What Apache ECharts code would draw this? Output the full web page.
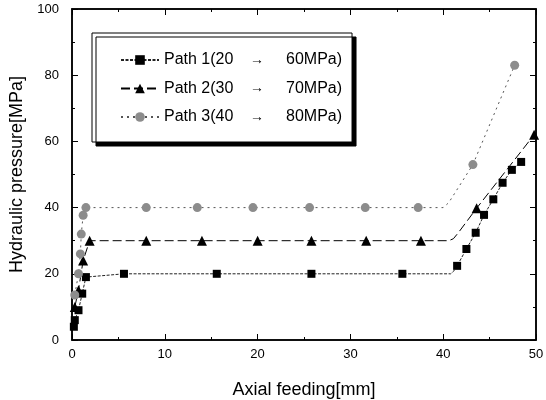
<!DOCTYPE html>
<html><head><meta charset="utf-8">
<script src="https://cdn.jsdelivr.net/npm/echarts@6/dist/echarts.min.js"></script>
<style>html,body{margin:0;padding:0;background:#fff}#c{width:546px;height:400px}</style>
</head><body><div id="c"></div>
<script>
// ---- data ----
const pathLabels = ['Path 1(20', 'Path 2(30', 'Path 3(40'];
const pathTargets = ['60MPa)', '70MPa)', '80MPa)'];
const path1Points = [[0.2,4],[0.3,6],[0.7,9],[1.1,14],[1.5,19],[5.6,20],[15.6,20],[25.8,20],[35.6,20],
  [41.5,22.4],[42.5,27.5],[43.5,32.4],[44.4,37.8],[45.4,42.5],[46.4,47.5],[47.4,51.4],[48.4,53.8]];
const path1Bend = [[40.8,20],[41.1,20.7]];
const path2Points = [[0.3,10],[0.7,15],[1.2,24],[1.9,30],[8,30],[14,30],[20,30],[25.8,30],[31.7,30],[37.6,30],
  [43.6,39.8],[49.8,62]];
const path2Bend = [[40.6,30],[41.1,30.6],[41.6,32.3]];
const path3Points = [[0.3,13.6],[0.7,20],[0.9,26],[1.0,32],[1.2,37.7],[1.5,40],[8,40],[13.5,40],[19.5,40],[25.6,40],[31.6,40],[37.3,40],
  [43.2,53],[47.7,83]];
const path3Bend = [[40,40],[40.6,41.5]];
const xTickLabels = ['0','10','20','30','40','50'];
const yTickLabels = ['0','20','40','60','80','100'];

function build(points, bend) {
  const d = points.map(p => ({value: p}))
    .concat(bend.map(p => ({value: p, symbol: 'none'})));
  d.sort((a, b) => a.value[0] - b.value[0]);
  return d;
}

const names = pathLabels.map((l, i) => l + ' → ' + pathTargets[i]);
const chart = echarts.init(document.getElementById('c'), null, {renderer: 'canvas'});
const font = 'Arial, "Liberation Sans", sans-serif';
function axisCommon() {
  return {
    show: true,
    axisLine: {show: true, onZero: false, lineStyle: {color: '#000', width: 1.5}},
    axisTick: {show: true, inside: true, length: 6, lineStyle: {color: '#000', width: 1}},
    minorTick: {show: true, splitNumber: 2, length: 3, lineStyle: {color: '#000', width: 1}},
    splitLine: {show: false}
  };
}
const gridRect = {left: 72, top: 9, right: 10, bottom: 60, containLabel: false, outerBoundsMode: 'none'};
chart.setOption({
  animation: false,
  backgroundColor: '#fff',
  grid: [
    Object.assign({}, gridRect, {show: true, borderColor: '#000', borderWidth: 1.5, backgroundColor: 'transparent'}),
    Object.assign({}, gridRect)
  ],
  legend: {
    orient: 'vertical', left: 92, top: 33,
    padding: [17, 10, 15, 28],
    itemWidth: 38, itemHeight: 12, itemGap: 8.5,
    backgroundColor: '#fff', borderColor: '#000', borderWidth: 1,
    shadowColor: '#000', shadowBlur: 0, shadowOffsetX: 4, shadowOffsetY: 4,
    data: names,
    formatter: function (name) {
      const i = names.indexOf(name);
      return '{a|' + pathLabels[i] + '}{b|→}{c|' + pathTargets[i] + '}';
    },
    textStyle: {
      fontFamily: font, fontSize: 16, color: '#000', lineHeight: 20,
      rich: {
        a: {fontFamily: font, fontSize: 16, color: '#000', width: 86},
        b: {fontFamily: font, fontSize: 14, color: '#000', width: 36},
        c: {fontFamily: font, fontSize: 16, color: '#000'}
      }
    }
  },
  xAxis: [
    Object.assign(axisCommon(), {
      gridIndex: 0, type: 'value', min: 0, max: 50, interval: 10, position: 'bottom',
      name: 'Axial feeding[mm]', nameLocation: 'middle', nameGap: 41,
      nameTextStyle: {fontFamily: font, fontSize: 18, color: '#000'},
      axisLabel: {fontFamily: font, fontSize: 13, color: '#000', margin: 8,
        formatter: v => xTickLabels[Math.round(v / 10)]}
    }),
    Object.assign(axisCommon(), {
      gridIndex: 1, type: 'value', min: 0, max: 50, interval: 10, position: 'top',
      axisLabel: {show: false}
    })
  ],
  yAxis: [
    Object.assign(axisCommon(), {
      gridIndex: 0, type: 'value', min: 0, max: 100, interval: 20, position: 'left',
      name: 'Hydraulic pressure[MPa]', nameLocation: 'middle', nameGap: 40,
      nameTextStyle: {fontFamily: font, fontSize: 18, color: '#000'},
      axisLabel: {fontFamily: font, fontSize: 13, color: '#000', margin: 13,
        formatter: v => yTickLabels[Math.round(v / 20)]}
    }),
    Object.assign(axisCommon(), {
      gridIndex: 1, type: 'value', min: 0, max: 100, interval: 20, position: 'right',
      axisLabel: {show: false}
    })
  ],
  series: [
    {
      name: names[0], type: 'line', data: build(path1Points, path1Bend),
      symbol: 'rect', symbolSize: 8, showSymbol: true,
      itemStyle: {color: '#000'},
      lineStyle: {color: '#222', width: 1, type: [3, 1.5]}
    },
    {
      name: names[1], type: 'line', data: build(path2Points, path2Bend),
      symbol: 'triangle', symbolSize: 10, showSymbol: true,
      itemStyle: {color: '#000'},
      lineStyle: {color: '#000', width: 1, type: [9, 4]}
    },
    {
      name: names[2], type: 'line', data: build(path3Points, path3Bend),
      symbol: 'circle', symbolSize: 9, showSymbol: true,
      itemStyle: {color: '#8c8c8c'},
      lineStyle: {color: '#555', width: 1, type: [2, 4]}
    },
    {
      name: 'frame', type: 'line', xAxisIndex: 1, yAxisIndex: 1, data: [[25, 50]],
      silent: true, showSymbol: false, symbol: 'none', lineStyle: {opacity: 0}
    }
  ]
});
</script>
</body></html>
